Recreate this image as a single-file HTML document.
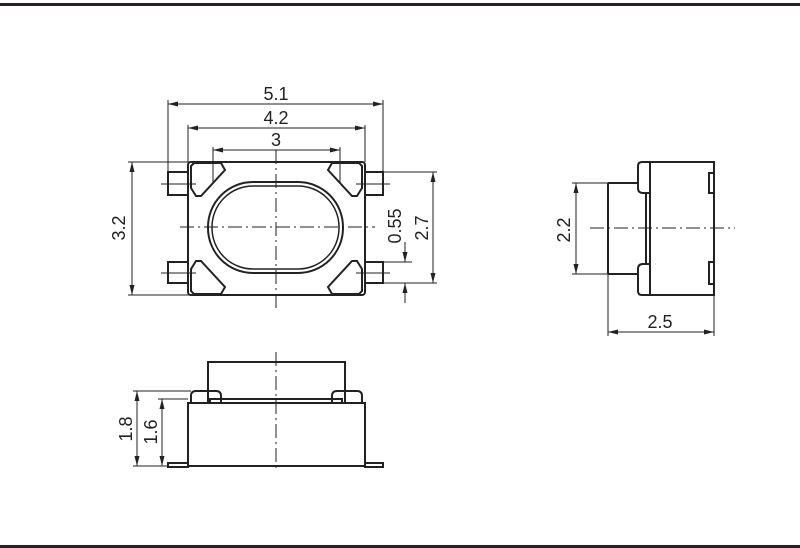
<!DOCTYPE html>
<html><head><style>html,body{margin:0;padding:0;background:#fff}svg{display:block}</style></head><body>
<svg width="800" height="548" viewBox="0 0 800 548" xmlns="http://www.w3.org/2000/svg" font-family="Liberation Sans, sans-serif">
<defs>
<marker id="a" viewBox="0 0 12 6" refX="12" refY="3" markerWidth="12" markerHeight="5" orient="auto-start-reverse" markerUnits="userSpaceOnUse"><path d="M0,0 L12,3 L0,6 Z" fill="#222"/></marker>
</defs>
<rect x="0" y="3" width="800" height="3" fill="#2a2222"/>
<rect x="0" y="545" width="800" height="3" fill="#2a2222"/>
<g fill="none" stroke="#222" stroke-width="2">
<rect x="188" y="162" width="177" height="133" rx="3"/>
<rect x="168" y="172" width="20" height="23"/><rect x="168" y="262" width="20" height="21"/>
<rect x="365" y="172" width="18" height="23"/><rect x="365" y="262" width="18" height="21"/>
<rect x="208" y="182" width="135" height="91" rx="45" ry="45"/>
<rect x="212" y="186" width="127" height="83" rx="41" ry="41" stroke-width="1.5"/>
<g id="p"><path d="M191,166 L194,163 L221,163 L225,170 L201,196 L196,196 L191,188 Z"/></g>
<use href="#p" transform="translate(553,0) scale(-1,1)"/>
<use href="#p" transform="translate(0,457) scale(1,-1)"/>
<use href="#p" transform="translate(553,457) scale(-1,-1)"/>
<rect x="650" y="162" width="64" height="133"/>
<path d="M650,162 L642,162 Q638,162 638,166 L638,188 Q638,193 643,193 L650,193"/>
<path d="M650,295 L642,295 Q638,295 638,291 L638,269 Q638,264 643,264 L650,264"/>
<path d="M608,183 L638,183 M608,274 L638,274 M608,183 L608,274"/>
<line x1="646" y1="193" x2="646" y2="264"/>
<rect x="709" y="173" width="5" height="20"/><rect x="709" y="262" width="5" height="22"/>
<rect x="188" y="403" width="177" height="63"/>
<path d="M208,403 L208,362 L345,362 L345,403"/>
<path d="M191,403 L191,396 Q191,391 196,391 L216,391 Q221,391 221,396 L221,403"/>
<path d="M332,403 L332,396 Q332,391 337,391 L357,391 Q362,391 362,396 L362,403"/>
<rect x="210" y="399" width="132" height="4"/>
<rect x="168" y="463" width="20" height="4"/><rect x="365" y="463" width="18" height="4"/>
</g>
<g stroke="#222" stroke-width="1" fill="none">
<line x1="276" y1="150" x2="276" y2="308" stroke-dasharray="14,4,2,4"/>
<line x1="180" y1="227" x2="375" y2="227" stroke-dasharray="14,4,2,4"/>
<line x1="161" y1="184" x2="196" y2="184"/><line x1="161" y1="273" x2="196" y2="273"/>
<line x1="356" y1="184" x2="390" y2="184"/><line x1="356" y1="273" x2="390" y2="273"/>
<line x1="276" y1="352" x2="276" y2="472" stroke-dasharray="14,4,2,4"/>
<line x1="590" y1="228" x2="735" y2="228" stroke-dasharray="14,4,2,4"/>
<line x1="168" y1="100" x2="168" y2="172"/><line x1="383" y1="100" x2="383" y2="172"/>
<line x1="168" y1="104" x2="383" y2="104" marker-start="url(#a)" marker-end="url(#a)"/>
<line x1="188" y1="125" x2="188" y2="162"/><line x1="365" y1="125" x2="365" y2="162"/>
<line x1="188" y1="128" x2="365" y2="128" marker-start="url(#a)" marker-end="url(#a)"/>
<line x1="213" y1="147" x2="213" y2="182"/><line x1="340" y1="147" x2="340" y2="182"/>
<line x1="213" y1="150" x2="340" y2="150" marker-start="url(#a)" marker-end="url(#a)"/>
<line x1="128" y1="162" x2="190" y2="162"/><line x1="128" y1="295" x2="190" y2="295"/>
<line x1="132" y1="162" x2="132" y2="295" marker-start="url(#a)" marker-end="url(#a)"/>
<line x1="383" y1="172" x2="437" y2="172"/><line x1="383" y1="283" x2="437" y2="283"/>
<line x1="433" y1="172" x2="433" y2="283" marker-start="url(#a)" marker-end="url(#a)"/>
<line x1="383" y1="262" x2="412" y2="262"/>
<line x1="405" y1="242" x2="405" y2="262" marker-end="url(#a)"/>
<line x1="405" y1="303" x2="405" y2="283" marker-end="url(#a)"/>
<line x1="572" y1="183" x2="608" y2="183"/><line x1="572" y1="274" x2="608" y2="274"/>
<line x1="576" y1="183" x2="576" y2="274" marker-start="url(#a)" marker-end="url(#a)"/>
<line x1="608" y1="274" x2="608" y2="336"/><line x1="714" y1="295" x2="714" y2="336"/>
<line x1="608" y1="332" x2="714" y2="332" marker-start="url(#a)" marker-end="url(#a)"/>
<line x1="133" y1="391" x2="191" y2="391"/><line x1="158" y1="399" x2="188" y2="399"/>
<line x1="133" y1="466" x2="168" y2="466"/>
<line x1="137" y1="391" x2="137" y2="466" marker-start="url(#a)" marker-end="url(#a)"/>
<line x1="162" y1="399" x2="162" y2="466" marker-start="url(#a)" marker-end="url(#a)"/>
</g>
<g fill="#222" font-size="18" text-anchor="middle">
<text x="276" y="100">5.1</text>
<text x="276" y="124">4.2</text>
<text x="276" y="146">3</text>
<text x="660" y="328">2.5</text>
<text transform="translate(125,228) rotate(-90)">3.2</text>
<text transform="translate(428,228) rotate(-90)">2.7</text>
<text transform="translate(401,226) rotate(-90)">0.55</text>
<text transform="translate(570,230) rotate(-90)">2.2</text>
<text transform="translate(132,429) rotate(-90)">1.8</text>
<text transform="translate(157,432) rotate(-90)">1.6</text>
</g>
</svg>
</body></html>
